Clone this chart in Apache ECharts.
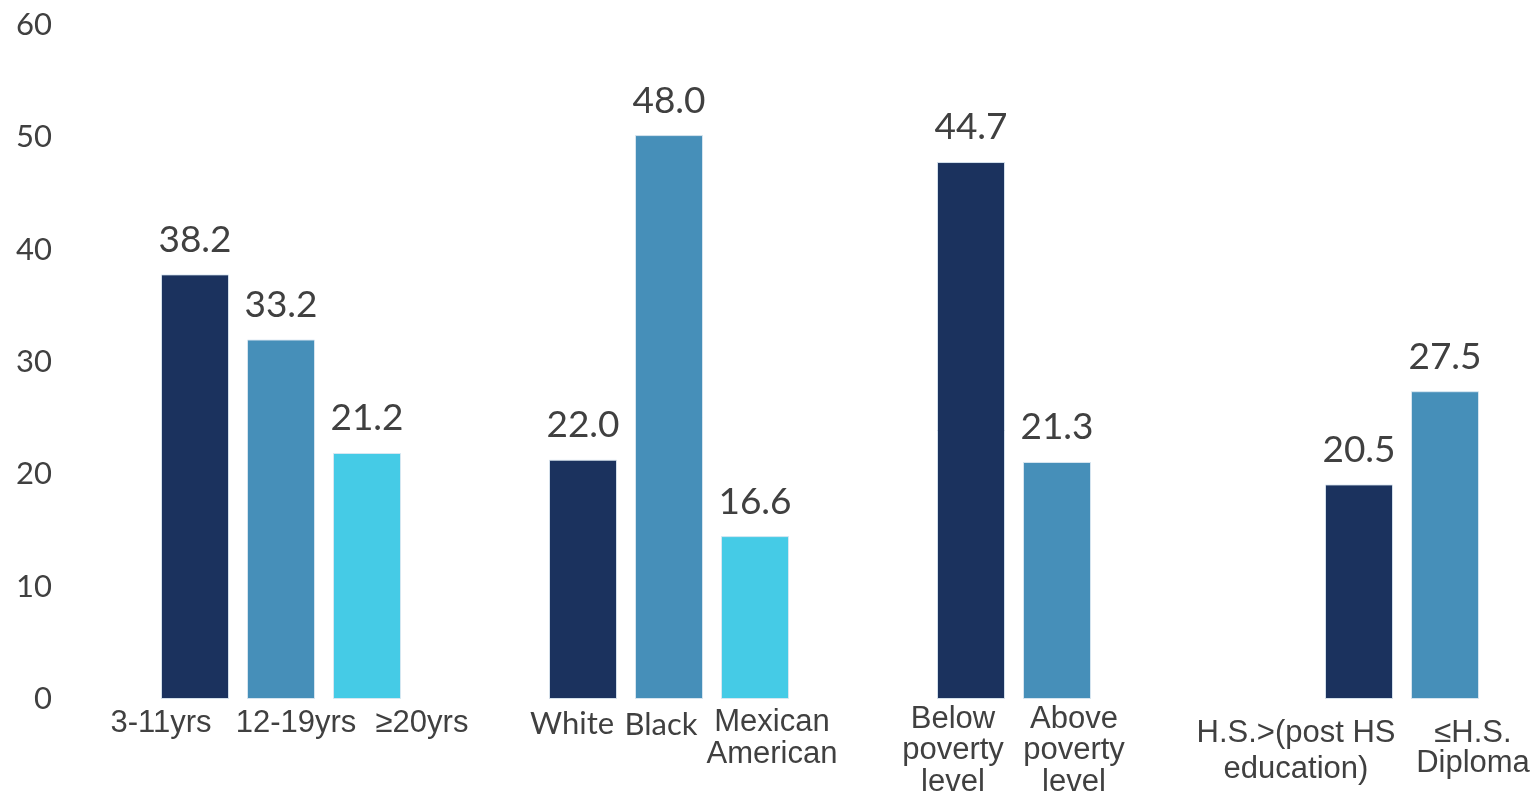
<!DOCTYPE html>
<html>
<head>
<meta charset="utf-8">
<script src="https://cdn.jsdelivr.net/npm/echarts@6/dist/echarts.min.js"></script>
<style>
html,body{margin:0;padding:0;background:#fff;}
#chart{width:1536px;height:797px;}
</style>
</head>
<body>
<div id="chart"></div>
<script>
// ---- data ----
const groups = ['Age', 'Race/Ethnicity', 'Poverty', 'Education'];
// bar heights as drawn in the picture
const barValuesA = [37.8, 21.3, 47.8, 19.1];
const barValuesB = [32.0, 50.2, 21.1, 27.4];
const barValuesC = [21.9, 14.5, null, null];
// value labels printed above bars
const valueLabelsA = ['38.2', '22.0', '44.7', '20.5'];
const valueLabelsB = ['33.2', '48.0', '21.3', '27.5'];
const valueLabelsC = ['21.2', '16.6', '', ''];
// category labels under each bar
const catLabelsA = ['3-11yrs', 'White', 'Below\npoverty\nlevel', 'H.S.>(post HS\neducation)'];
const catLabelsB = ['12-19yrs', 'Black', 'Above\npoverty\nlevel', '≤H.S.\nDiploma'];
const catLabelsC = ['≥20yrs', 'Mexican\nAmerican', '', ''];
const yMin = 0, yMax = 60, yStep = 10;

// ---- styles ----
const colors = ['#1B325E', '#468FB9', '#45CBE6'];
const textColor = '#404040';
const BAR_W = 68, GAP = 18;
// label placement (dx from bar centre, first-line centre below axis, line height, font)
const catStyle = [
  [ {dx:-34, dy:24, lh:32, ff:'Liberation Sans'}, {dx:-11, dy:25, lh:32, ff:'Lato'}, {dx:-18, dy:20, lh:31.5, ff:'Liberation Sans'}, {dx:-63, dy:34, lh:36, ff:'Liberation Sans'} ],
  [ {dx:15, dy:24, lh:32, ff:'Liberation Sans'}, {dx:-8, dy:26, lh:32, ff:'Lato'}, {dx:17, dy:20, lh:31.5, ff:'Liberation Sans'}, {dx:28, dy:34, lh:30, ff:'Liberation Sans'} ],
  [ {dx:55, dy:24, lh:32, ff:'Liberation Sans'}, {dx:17, dy:23, lh:32, ff:'Liberation Sans'}, null, null ]
];

const chart = echarts.init(document.getElementById('chart'), null, {renderer: 'canvas'});

function makeSeries(vals, labels, idx) {
  return {
    type: 'bar',
    data: vals,
    barWidth: BAR_W,
    barGap: (GAP / BAR_W * 100) + '%',
    itemStyle: { color: colors[idx], borderColor: 'rgba(220,232,242,0.9)', borderWidth: 1 },
    label: {
      show: true,
      position: 'top',
      distance: 16,
      fontFamily: 'Lato',
      fontSize: 37,
      color: textColor,
      formatter: p => labels[p.dataIndex]
    },
    emphasis: { disabled: true },
    animation: false
  };
}

chart.setOption({
  animation: false,
  grid: { left: 87, top: 25, bottom: 98, width: 1552, containLabel: false, outerBoundsMode: 'none' },
  xAxis: {
    type: 'category',
    data: groups,
    axisLine: { show: false },
    axisTick: { show: false },
    axisLabel: { show: false },
    splitLine: { show: false }
  },
  yAxis: {
    type: 'value',
    min: yMin, max: yMax, interval: yStep,
    axisLine: { show: false },
    axisTick: { show: false },
    splitLine: { show: false },
    axisLabel: { fontFamily: 'Lato', fontSize: 31, color: textColor, margin: 35 }
  },
  series: [
    makeSeries(barValuesA, valueLabelsA, 0),
    makeSeries(barValuesB, valueLabelsB, 1),
    makeSeries(barValuesC, valueLabelsC, 2)
  ]
});

// category labels under the bars, anchored to the axis
const allCat = [catLabelsA, catLabelsB, catLabelsC];
const elements = [];
const y0 = chart.convertToPixel({yAxisIndex: 0}, 0);
for (let s = 0; s < 3; s++) {
  for (let g = 0; g < groups.length; g++) {
    const txt = allCat[s][g];
    if (!txt) continue;
    const st = catStyle[s][g];
    const cx = chart.convertToPixel({xAxisIndex: 0}, groups[g]) + (s - 1) * (BAR_W + GAP);
    elements.push({
      type: 'text',
      x: cx + st.dx,
      y: y0 + st.dy - st.lh / 2,
      silent: true,
      style: {
        text: txt,
        fill: textColor,
        font: '31px "' + st.ff + '"',
        textAlign: 'center',
        textVerticalAlign: 'top',
        align: 'center',
        verticalAlign: 'top',
        lineHeight: st.lh
      }
    });
  }
}
chart.setOption({ graphic: { elements: elements } });
</script>
</body>
</html>
